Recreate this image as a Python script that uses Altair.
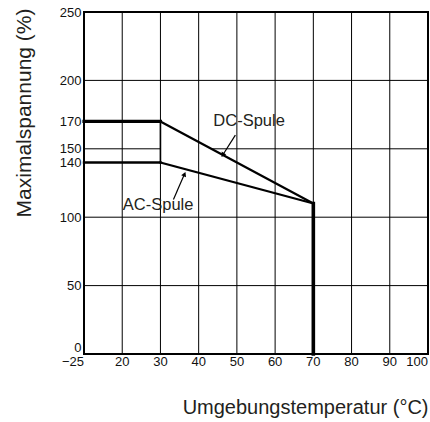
import altair as alt
import pandas as pd

# Broken x axis: position 10 carries the label "-25"
x_ticks = [10, 20, 30, 40, 50, 60, 70, 80, 90, 100]
x_tick_labels = ["\u221225", "20", "30", "40", "50", "60", "70", "80", "90", "100"]
y_ticks = [0, 50, 100, 140, 150, 170, 200, 250]

grid_x = [20, 30, 40, 50, 60, 70, 80, 90]
grid_y = [50, 100, 200]
grid150_x1 = [10, 43.3]
grid150_x2 = [30, 100]

# curves (x position, max voltage %)
dc_x = [10, 30, 70]
dc_y = [170, 170, 110]
ac_x = [10, 30, 70]
ac_y = [140, 140, 110]
cut_x = [70, 70]
cut_y = [110, 0]

# annotations
label_text = ["DC-Spule", "AC-Spule"]
label_x = [53.2, 29.4]
label_y = [170.5, 109]
arrow_x1 = [49.6, 33.4]
arrow_y1 = [160, 113]
arrow_x2 = [46.3, 36.3]
arrow_y2 = [145.5, 131.5]
arrow_angle = [212, 23]

XS = alt.Scale(domain=[10, 100], nice=False, zero=False)
YS = alt.Scale(domain=[0, 250], nice=False)

x_axis = alt.Axis(
    values=x_ticks, labels=False, grid=False, ticks=False, domain=False,
    title="Umgebungstemperatur (\u00b0C)", titleFont="Liberation Sans", titleFontSize=20,
    titleFontWeight="normal", titleColor="#231f20", titleAnchor="end", titleAlign="right",
    titleX=344, titleY=59, titleBaseline="alphabetic",
)
y_axis = alt.Axis(
    values=y_ticks, grid=False, ticks=False, domain=False,
    labelFont="Liberation Sans", labelFontSize=13, labelColor="#111", labelPadding=3,
    labelOverlap=False, labelFlush=False,
    labelBaseline={"condition": {"test": "datum.value == 0", "value": "bottom"}, "value": "middle"},
    title="Maximalspannung (%)", titleFont="Liberation Sans", titleFontSize=21,
    titleFontWeight="normal", titleColor="#231f20", titleAngle=-90,
    titleAlign="right", titleBaseline="alphabetic", titleX=-54, titleY=-4,
)

gx = pd.DataFrame({"x": grid_x})
gy = pd.DataFrame({"y": grid_y})
g150 = pd.DataFrame({"x": grid150_x1, "x2": grid150_x2, "y": [150] * len(grid150_x1)})

vgrid = alt.Chart(gx).mark_rule(color="black", strokeWidth=1).encode(
    x=alt.X("x:Q", scale=XS, axis=x_axis),
)
hgrid = alt.Chart(gy).mark_rule(color="black", strokeWidth=1).encode(
    y=alt.Y("y:Q", scale=YS, axis=y_axis),
)
h150 = alt.Chart(g150).mark_rule(color="black", strokeWidth=1).encode(
    x=alt.X("x:Q", scale=XS), x2="x2:Q", y=alt.Y("y:Q", scale=YS)
)

# x tick labels as text (edge labels right-aligned like the reference)
xt = pd.DataFrame({"x": x_ticks, "label": x_tick_labels})
edge = [x_ticks[0], x_ticks[-1]]
xt_mid = xt[~xt["x"].isin(edge)]
xt_edge = xt[xt["x"].isin(edge)]

def tick_text(df, align):
    return alt.Chart(df).mark_text(
        font="Liberation Sans", fontSize=13, color="#111", align=align, baseline="top"
    ).encode(x=alt.X("x:Q", scale=XS), y=alt.value(344), text="label:N")

xlab_mid = tick_text(xt_mid, "center")
xlab_edge = tick_text(xt_edge, "right")

def seg_df(xs, ys):
    return pd.DataFrame({"x": xs[:-1], "x2": xs[1:], "y": ys[:-1], "y2": ys[1:]})

dc = seg_df(dc_x, dc_y)
ac = seg_df(ac_x, ac_y)

def segs(df, width):
    return alt.Chart(df).mark_rule(color="black", strokeWidth=width, strokeCap="square").encode(
        x=alt.X("x:Q", scale=XS), x2="x2:Q", y=alt.Y("y:Q", scale=YS), y2="y2:Q"
    )

dc_flat = segs(dc.iloc[[0]], 3.2)
dc_slope = segs(dc.iloc[[1]], 2.2)
ac_flat = segs(ac.iloc[[0]], 2.4)
ac_slope = segs(ac.iloc[[1]], 2.2)
step30 = segs(pd.DataFrame({"x": [dc_x[1]], "x2": [ac_x[1]], "y": [dc_y[1]], "y2": [ac_y[1]]}), 1.6)
cut = segs(pd.DataFrame({"x": [cut_x[0]], "x2": [cut_x[1]], "y": [cut_y[0]], "y2": [cut_y[1]]}), 3.6)

ann = pd.DataFrame({
    "text": label_text, "lx": label_x, "ly": label_y,
    "ax1": arrow_x1, "ay1": arrow_y1, "ax2": arrow_x2, "ay2": arrow_y2, "ang": arrow_angle,
})
labels = alt.Chart(ann).mark_text(
    font="Liberation Sans", fontSize=16.5, color="#231f20", align="center", baseline="middle"
).encode(x=alt.X("lx:Q", scale=XS), y=alt.Y("ly:Q", scale=YS), text="text:N")
arrows = alt.Chart(ann).mark_rule(color="black", strokeWidth=1.2).encode(
    x=alt.X("ax1:Q", scale=XS), x2="ax2:Q", y=alt.Y("ay1:Q", scale=YS), y2="ay2:Q"
)
heads = alt.Chart(ann).mark_point(
    shape="triangle-up", filled=True, color="black", size=28, opacity=1
).encode(
    x=alt.X("ax2:Q", scale=XS), y=alt.Y("ay2:Q", scale=YS), angle=alt.Angle("ang:Q", scale=None)
)

chart = alt.layer(
    vgrid, hgrid, h150, dc_flat, dc_slope, ac_flat, ac_slope, step30, cut,
    arrows, heads, labels, xlab_mid, xlab_edge
).properties(
    width=344, height=342,
    autosize=alt.AutoSizeParams(type="none"),
    padding={"left": 84, "top": 12, "right": 2, "bottom": 68},
    background="white",
).configure_view(stroke="black", strokeWidth=2)

chart.save("out.html", embed_options={"renderer": "svg", "actions": False})
